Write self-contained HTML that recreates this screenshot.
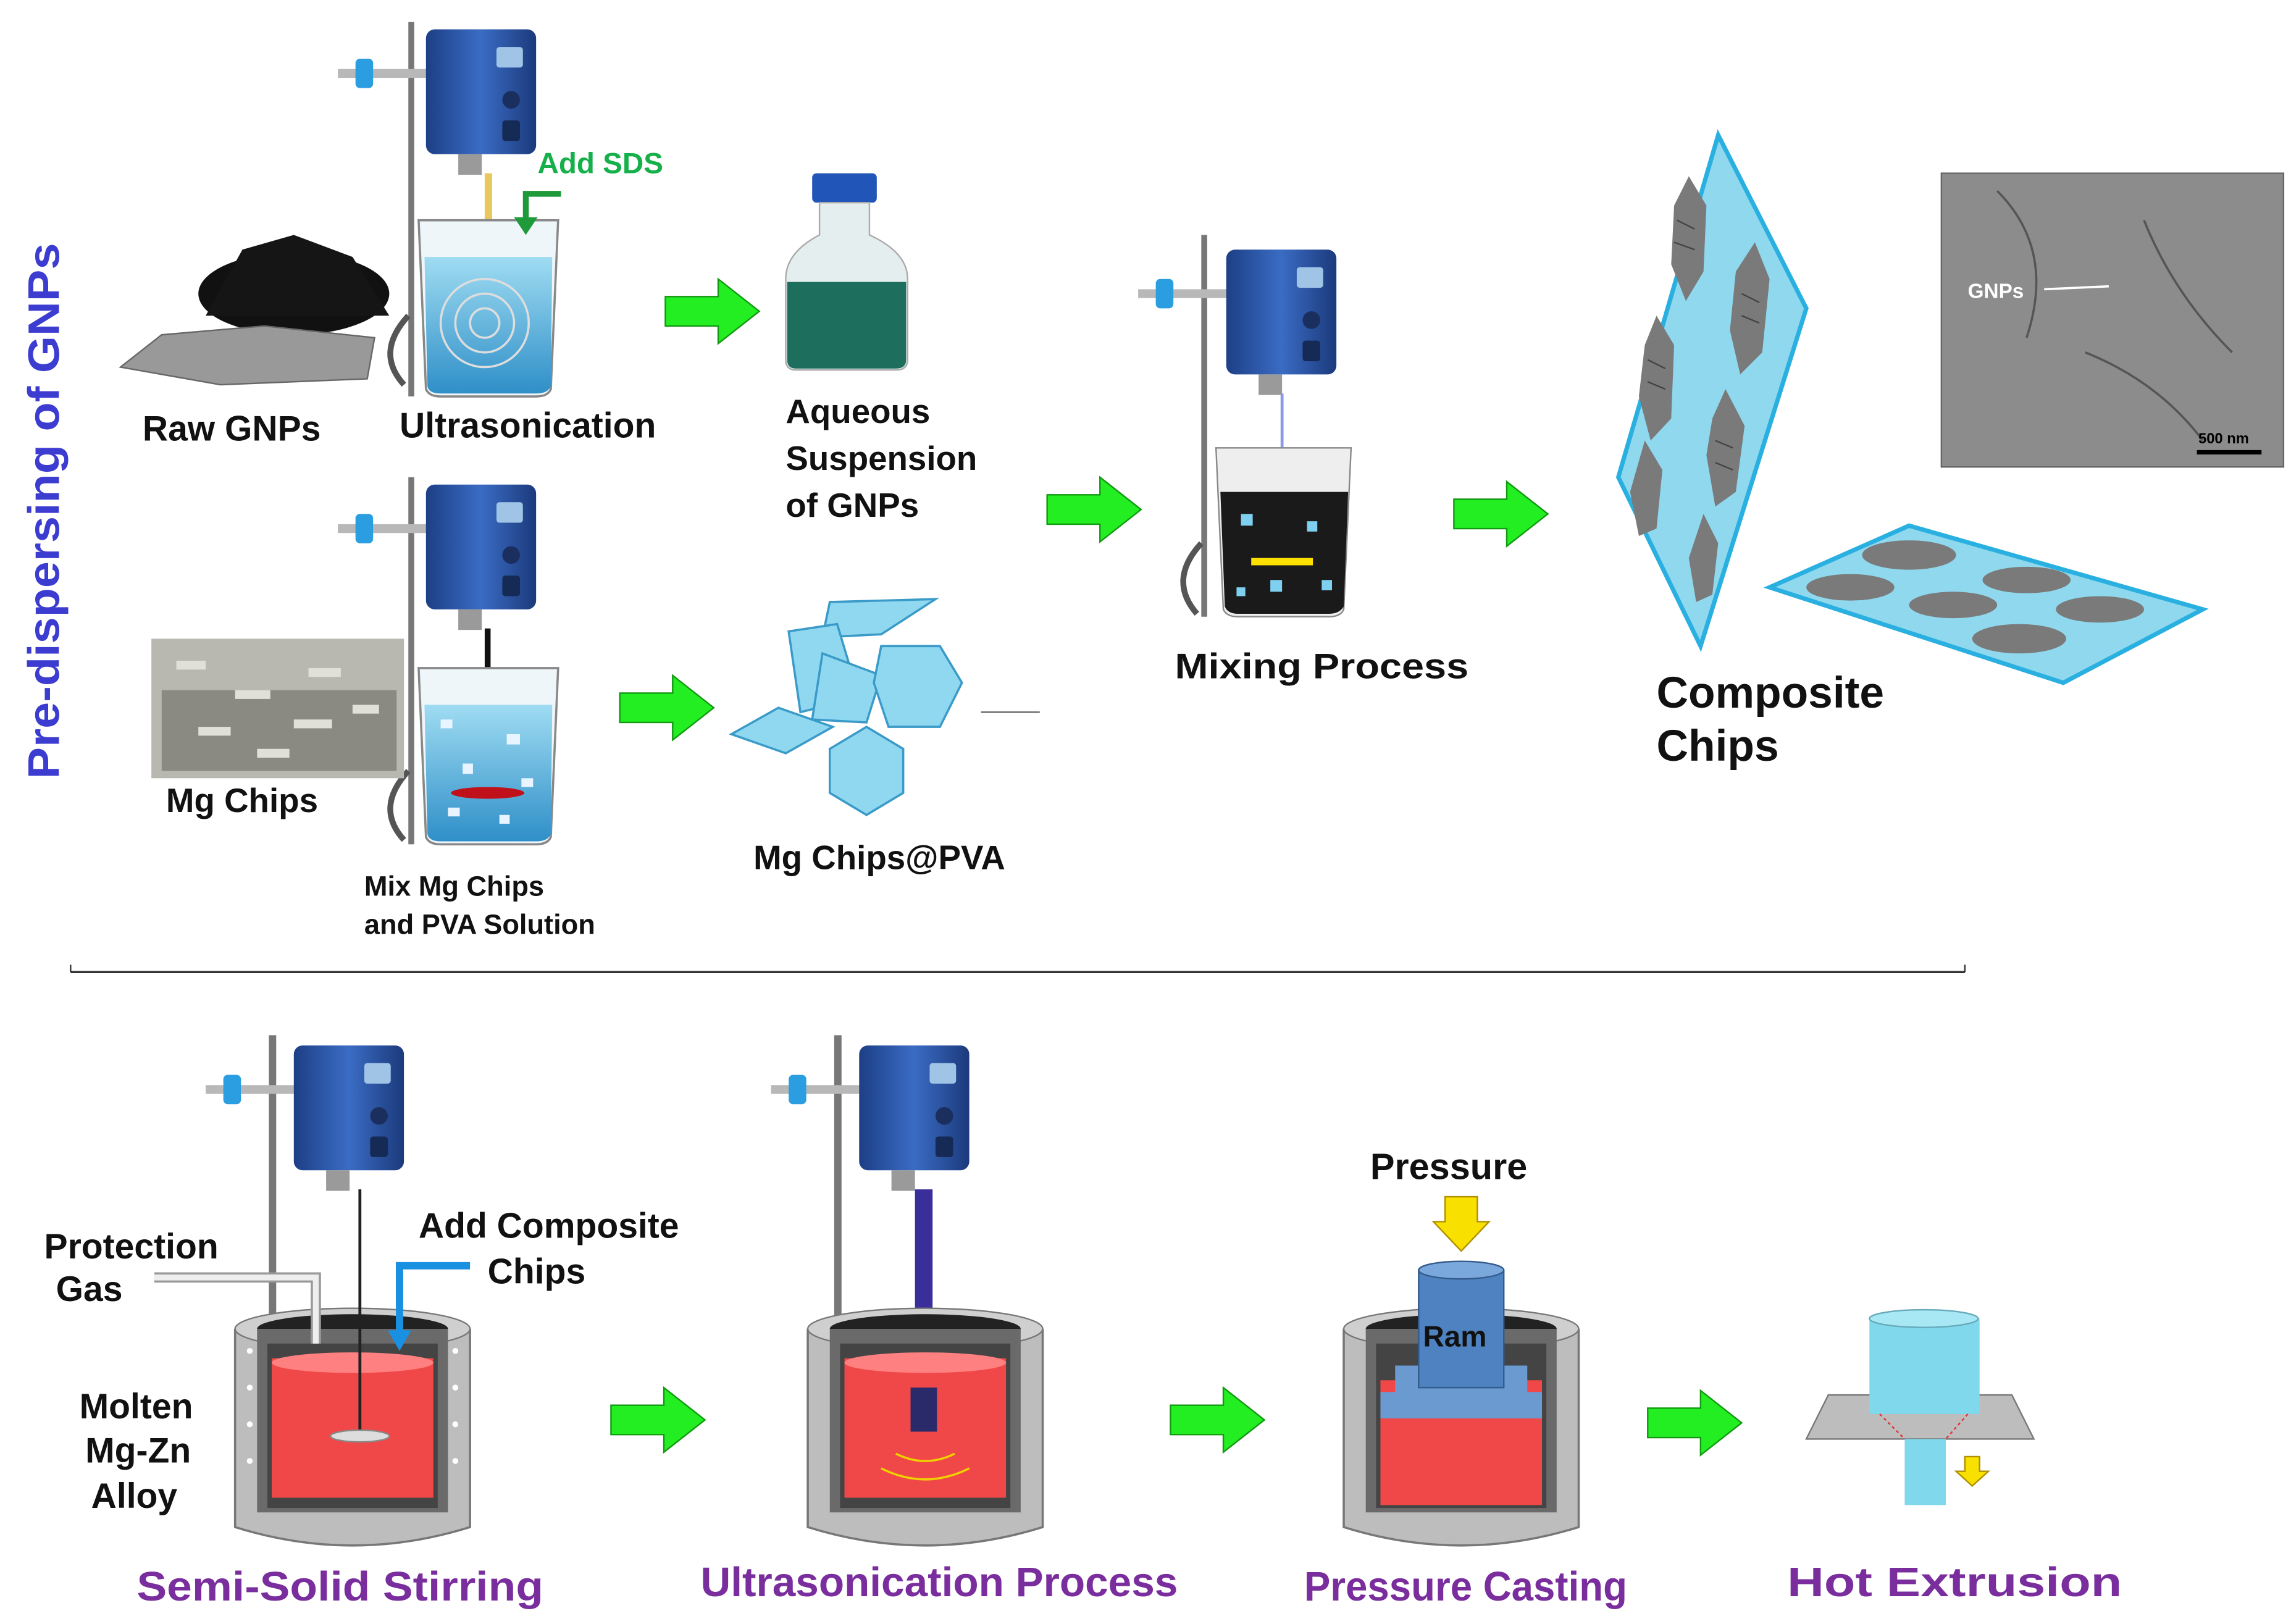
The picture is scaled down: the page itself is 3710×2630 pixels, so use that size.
<!DOCTYPE html>
<html><head><meta charset="utf-8"><style>
html,body{margin:0;padding:0;background:#fff;}
svg{display:block;}
text{font-family:"Liberation Sans",sans-serif;font-weight:bold;}
</style></head><body>
<svg width="3710" height="2630" viewBox="0 0 1560 1106" xmlns="http://www.w3.org/2000/svg">
<defs>
<linearGradient id="mb" x1="0" x2="1"><stop offset="0" stop-color="#1d3f86"/><stop offset="0.5" stop-color="#3a6cc4"/><stop offset="1" stop-color="#1c3a7c"/></linearGradient>
<linearGradient id="wat" x1="0" y1="0" x2="0" y2="1"><stop offset="0" stop-color="#9fdcf2"/><stop offset="1" stop-color="#2f8fc8"/></linearGradient>
<g id="mixer">
  <rect x="-60" y="27" width="62" height="6" fill="#b8b8b8"/>
  <rect x="-48" y="20" width="12" height="20" rx="3" fill="#2a9ee0"/>
  <rect x="0" y="0" width="75" height="85" rx="6" fill="url(#mb)"/>
  <rect x="48" y="12" width="18" height="14" rx="2" fill="#9fc4e6"/>
  <circle cx="58" cy="48" r="6" fill="#1a2f5e"/>
  <rect x="52" y="62" width="12" height="14" rx="2" fill="#152a55"/>
  <rect x="22" y="85" width="16" height="14" fill="#9a9a9a"/>
</g>
<g id="beaker">
  <path d="M0,0 L95,0 L90,115 Q88,120 80,120 L15,120 Q7,120 5,115 Z" fill="#eef6fa" stroke="#888" stroke-width="1.5"/>
  <path d="M4,25 L91,25 L90,113 Q88,118 80,118 L15,118 Q7,118 6,113 Z" fill="url(#wat)"/>
</g>
<g id="garrow">
  <polygon points="0,12 36,12 36,0 64,22 36,44 36,32 0,32" fill="#22ee22" stroke="#119911" stroke-width="1"/>
</g>
<g id="crucible">
  <path d="M0,10 L0,145 Q80,170 160,145 L160,10" fill="#bdbdbd" stroke="#777" stroke-width="1.5"/>
  <ellipse cx="80" cy="10" rx="80" ry="14" fill="#cfcfcf" stroke="#777"/>
  <ellipse cx="80" cy="10" rx="65" ry="10" fill="#222"/>
  <rect x="15" y="10" width="130" height="125" fill="#6a6a6a"/>
  <rect x="22" y="20" width="116" height="112" fill="#444"/>
</g>
</defs>

<text transform="translate(40,348) rotate(-90)" text-anchor="middle" font-size="30" fill="#3c3cd0" textLength="365" lengthAdjust="spacingAndGlyphs">Pre-dispersing of GNPs</text>

<!-- Row 1 -->
<rect x="278" y="15" width="4" height="255" fill="#777"/>
<use href="#mixer" x="290" y="20"/>
<rect x="330" y="118" width="5" height="115" fill="#e8c85a"/>
<use href="#beaker" x="285" y="150"/>
<g stroke="#ddd" fill="none" stroke-width="1.5"><circle cx="330" cy="220" r="10"/><circle cx="330" cy="220" r="20"/><circle cx="330" cy="220" r="30"/></g>
<path d="M278,215 Q255,240 275,262" fill="none" stroke="#555" stroke-width="4"/>
<text x="366" y="118" font-size="20" fill="#16b04a">Add SDS</text>
<path d="M382,132 L358,132 L358,150" fill="none" stroke="#1f9a3a" stroke-width="4"/>
<polygon points="350,148 366,148 358,160" fill="#1f9a3a"/>
<ellipse cx="200" cy="200" rx="65" ry="28" fill="#111"/>
<polygon points="140,215 165,170 200,160 240,175 265,215" fill="#151515"/>
<polygon points="82,250 110,228 180,222 255,230 250,258 150,262" fill="#999" stroke="#666"/>
<text x="97" y="300" font-size="24" fill="#111">Raw GNPs</text>
<text x="272" y="298" font-size="24" fill="#111">Ultrasonication</text>
<use href="#garrow" x="453" y="190"/>
<rect x="553" y="118" width="44" height="20" rx="3" fill="#2156b8"/>
<path d="M558,138 L592,138 L592,160 Q618,172 618,190 L618,245 Q618,252 610,252 L542,252 Q535,252 535,245 L535,190 Q535,172 558,160 Z" fill="#e4eeee" stroke="#aaa"/>
<path d="M536,192 L617,192 L617,245 Q617,251 610,251 L542,251 Q536,251 536,245 Z" fill="#1e6e5e"/>
<g font-size="23" fill="#111"><text x="535" y="288">Aqueous</text><text x="535" y="320">Suspension</text><text x="535" y="352">of GNPs</text></g>

<!-- Row 2 -->
<rect x="278" y="325" width="4" height="250" fill="#777"/>
<use href="#mixer" x="290" y="330"/>
<rect x="330" y="428" width="4" height="112" fill="#111"/>
<use href="#beaker" x="285" y="455"/>
<ellipse cx="332" cy="540" rx="25" ry="4" fill="#c0101a"/>
<g fill="#e8f4ff"><rect x="300" y="490" width="8" height="6"/><rect x="345" y="500" width="9" height="7"/><rect x="315" y="520" width="7" height="7"/><rect x="355" y="530" width="8" height="6"/><rect x="305" y="550" width="8" height="6"/><rect x="340" y="555" width="7" height="6"/></g>
<path d="M278,525 Q255,550 275,572" fill="none" stroke="#555" stroke-width="4"/>
<rect x="103" y="435" width="172" height="95" fill="#b8b8b0"/>
<rect x="110" y="470" width="160" height="55" fill="#8a8a82"/>
<g fill="#e0e0d8"><rect x="120" y="450" width="20" height="6"/><rect x="160" y="470" width="24" height="6"/><rect x="210" y="455" width="22" height="6"/><rect x="135" y="495" width="22" height="6"/><rect x="200" y="490" width="26" height="6"/><rect x="240" y="480" width="18" height="6"/><rect x="175" y="510" width="22" height="6"/></g>
<text x="113" y="553" font-size="23" fill="#111">Mg Chips</text>
<g font-size="19" fill="#111"><text x="248" y="610">Mix Mg Chips</text><text x="248" y="636">and PVA Solution</text></g>
<use href="#garrow" x="422" y="460"/>
<g fill="#8fd8f0" stroke="#3a9ac8" stroke-width="1.5">
<polygon points="565,410 637,408 600,432 560,434"/>
<polygon points="537,430 570,425 585,475 545,485"/>
<polygon points="560,445 600,460 590,492 553,490"/>
<polygon points="600,440 640,440 655,465 640,495 605,495 595,465"/>
<polygon points="498,500 530,482 567,495 535,513"/>
<polygon points="590,495 615,510 615,540 590,555 565,540 565,510"/>
</g>
<line x1="668" y1="485" x2="708" y2="485" stroke="#666" stroke-width="1"/>
<text x="513" y="592" font-size="23" fill="#111">Mg Chips@PVA</text>
<use href="#garrow" x="713" y="325"/>

<rect x="818" y="160" width="4" height="260" fill="#777"/>
<use href="#mixer" x="835" y="170"/>
<line x1="873" y1="268" x2="873" y2="375" stroke="#8a9ae8" stroke-width="2"/>
<path d="M828,305 L920,305 L915,415 Q913,420 905,420 L843,420 Q835,420 833,415 Z" fill="#eee" stroke="#888"/>
<path d="M831,335 L918,335 L915,413 Q912,418 905,418 L843,418 Q836,418 834,413 Z" fill="#1a1a1a"/>
<rect x="852" y="380" width="42" height="5" fill="#ffe000"/>
<g fill="#7fd0f0"><rect x="845" y="350" width="8" height="8"/><rect x="890" y="355" width="7" height="7"/><rect x="865" y="395" width="8" height="8"/><rect x="900" y="395" width="7" height="7"/><rect x="842" y="400" width="6" height="6"/></g>
<path d="M818,370 Q795,395 815,418" fill="none" stroke="#555" stroke-width="4"/>
<text x="800" y="462" font-size="24" fill="#111" textLength="200" lengthAdjust="spacingAndGlyphs">Mixing Process</text>
<use href="#garrow" x="990" y="328"/>

<polygon points="1102,325 1170,92 1230,210 1158,440" fill="#8fd8ee" stroke="#2ab0e0" stroke-width="3"/>
<g fill="#7a7a7a">
<polygon points="1150,120 1162,140 1160,185 1148,205 1138,180 1140,140"/>
<polygon points="1195,165 1205,190 1200,240 1185,255 1178,225 1182,185"/>
<polygon points="1128,215 1140,235 1138,285 1124,300 1116,270 1120,235"/>
<polygon points="1175,265 1188,290 1182,335 1168,345 1162,310 1166,285"/>
<polygon points="1120,300 1132,320 1128,360 1116,365 1110,335"/>
<polygon points="1160,350 1170,370 1166,405 1155,410 1150,380"/>
</g>
<g stroke="#444" stroke-width="1" fill="none"><path d="M1142,150 l12,6 M1140,165 l14,5 M1186,200 l12,6 M1186,215 l12,5 M1122,245 l12,6 M1122,260 l12,5 M1168,300 l12,5 M1168,315 l12,5"/></g>
<polygon points="1205,400 1300,358 1500,415 1405,465" fill="#8fd8ee" stroke="#2ab0e0" stroke-width="3"/>
<g fill="#7a7a7a"><ellipse cx="1300" cy="378" rx="32" ry="10"/><ellipse cx="1260" cy="400" rx="30" ry="9"/><ellipse cx="1380" cy="395" rx="30" ry="9"/><ellipse cx="1330" cy="412" rx="30" ry="9"/><ellipse cx="1430" cy="415" rx="30" ry="9"/><ellipse cx="1375" cy="435" rx="32" ry="10"/></g>
<g font-size="30" fill="#111"><text x="1128" y="482">Composite</text><text x="1128" y="518">Chips</text></g>
<rect x="1322" y="118" width="233" height="200" fill="#8c8c8c" stroke="#666"/>
<g stroke="#555" fill="none" stroke-width="1.5"><path d="M1360,130 Q1400,170 1380,230"/><path d="M1460,150 Q1480,200 1520,240"/><path d="M1420,240 Q1470,260 1500,300"/></g>
<text x="1340" y="203" font-size="14" fill="#fff">GNPs</text>
<line x1="1392" y1="197" x2="1436" y2="195" stroke="#fff" stroke-width="1.5"/>
<line x1="1496" y1="308" x2="1540" y2="308" stroke="#000" stroke-width="3"/>
<text x="1497" y="302" font-size="10" fill="#000">500 nm</text>

<line x1="48" y1="662" x2="1338" y2="662" stroke="#333" stroke-width="1.5"/>
<line x1="48" y1="657" x2="48" y2="662" stroke="#333"/><line x1="1338" y1="657" x2="1338" y2="662" stroke="#333"/>

<rect x="183" y="705" width="5" height="200" fill="#777"/>
<use href="#mixer" x="200" y="712"/>
<use href="#crucible" x="160" y="895"/>
<rect x="185" y="925" width="110" height="95" fill="#f04848"/>
<ellipse cx="240" cy="928" rx="55" ry="7" fill="#ff8080"/>
<line x1="245" y1="810" x2="245" y2="978" stroke="#222" stroke-width="2"/>
<ellipse cx="245" cy="978" rx="20" ry="4" fill="#ddd" stroke="#888"/>
<g fill="#fff"><circle cx="170" cy="920" r="2"/><circle cx="170" cy="945" r="2"/><circle cx="170" cy="970" r="2"/><circle cx="170" cy="995" r="2"/><circle cx="310" cy="920" r="2"/><circle cx="310" cy="945" r="2"/><circle cx="310" cy="970" r="2"/><circle cx="310" cy="995" r="2"/></g>
<path d="M105,870 L215,870 L215,915" fill="none" stroke="#999" stroke-width="7"/>
<path d="M105,870 L215,870 L215,915" fill="none" stroke="#eee" stroke-width="4"/>
<path d="M320,862 L272,862 L272,910" fill="none" stroke="#1a90e0" stroke-width="5"/>
<polygon points="264,906 280,906 272,920" fill="#1a90e0"/>
<g font-size="24" fill="#111"><text x="30" y="857">Protection</text><text x="38" y="886">Gas</text>
<text x="285" y="843">Add Composite</text><text x="332" y="874">Chips</text>
<text x="54" y="966">Molten</text><text x="58" y="996">Mg-Zn</text><text x="62" y="1027">Alloy</text></g>
<text x="93" y="1090" font-size="28" fill="#7a2e9e" textLength="277" lengthAdjust="spacingAndGlyphs">Semi-Solid Stirring</text>
<use href="#garrow" x="416" y="945"/>

<rect x="568" y="705" width="5" height="200" fill="#777"/>
<use href="#mixer" x="585" y="712"/>
<rect x="623" y="810" width="12" height="140" fill="#3a2e9a"/>
<use href="#crucible" x="550" y="895"/>
<rect x="575" y="925" width="110" height="95" fill="#f04848"/>
<ellipse cx="630" cy="928" rx="55" ry="7" fill="#ff8080"/>
<rect x="620" y="945" width="18" height="30" fill="#2a2a6a"/>
<g stroke="#f0d000" fill="none" stroke-width="1.5"><path d="M610,990 Q630,1000 650,990"/><path d="M600,1000 Q630,1015 660,1000"/></g>
<text x="477" y="1087" font-size="28" fill="#7a2e9e" textLength="325" lengthAdjust="spacingAndGlyphs">Ultrasonication Process</text>
<use href="#garrow" x="797" y="945"/>

<use href="#crucible" x="915" y="895"/>
<rect x="940" y="940" width="110" height="85" fill="#f04848"/>
<rect x="940" y="948" width="110" height="18" fill="#6a9ad0"/>
<rect x="950" y="930" width="90" height="20" fill="#6a9ad0"/>
<rect x="966" y="865" width="58" height="80" fill="#4e82c0" stroke="#335a8a"/>
<ellipse cx="995" cy="865" rx="29" ry="6" fill="#7aa8dc" stroke="#335a8a"/>
<text x="969" y="917" font-size="20" fill="#111">Ram</text>
<polygon points="984,815 1006,815 1006,832 1014,832 995,852 976,832 984,832" fill="#f8e000" stroke="#b09000"/>
<text x="933" y="803" font-size="25" fill="#111">Pressure</text>
<text x="888" y="1090" font-size="28" fill="#7a2e9e" textLength="220" lengthAdjust="spacingAndGlyphs">Pressure Casting</text>
<use href="#garrow" x="1122" y="947"/>

<polygon points="1245,950 1370,950 1385,980 1230,980" fill="#bdbdbd" stroke="#777"/>
<rect x="1273" y="898" width="75" height="65" fill="#7fd8ec"/>
<ellipse cx="1310" cy="898" rx="37" ry="6" fill="#a8e8f4" stroke="#6ab"/>
<rect x="1297" y="980" width="28" height="45" fill="#7fd8ec"/>
<path d="M1280,963 L1297,980 M1340,963 L1325,980" stroke="#e03030" stroke-dasharray="2,2"/>
<polygon points="1338,992 1348,992 1348,1002 1354,1002 1343,1012 1332,1002 1338,1002" fill="#f8e000" stroke="#b09000"/>
<text x="1217" y="1087" font-size="28" fill="#7a2e9e" textLength="228" lengthAdjust="spacingAndGlyphs">Hot Extrusion</text>
</svg>
</body></html>
